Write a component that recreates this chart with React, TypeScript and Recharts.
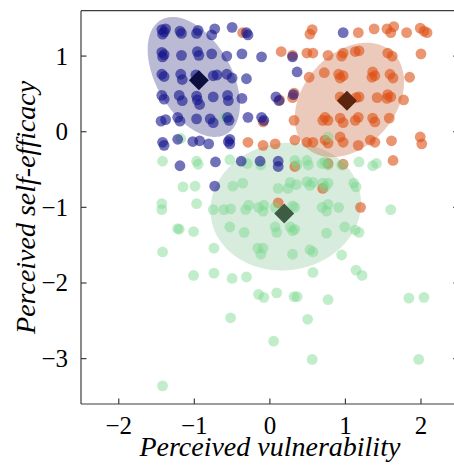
import React from 'react';
import { ComposedChart, Scatter, Area, XAxis, YAxis } from 'recharts';

// cluster 1 (blue): [perceived vulnerability, perceived self-efficacy]
const bluePoints: [number, number][] = [
  [-1.43, 1.35], [-1.40, 1.32], [-1.42, 1.29], [-1.38, 1.36], [-1.19, 1.33], [-1.17, 1.30], [-0.97, 1.30], [-0.95, 1.34],
  [-0.77, 1.28], [-0.73, 1.36], [-0.50, 1.38], [-0.31, 1.31], [-0.29, 1.28], [0.97, 1.31],
  [-1.43, 1.05], [-1.40, 1.02], [-1.42, 0.99], [-1.17, 1.01], [-0.96, 1.06], [-0.94, 1.01], [-0.77, 1.03], [-0.57, 1.00],
  [-0.37, 1.03], [-0.11, 0.99], [0.30, 0.99],
  [-1.43, 0.76], [-1.40, 0.73], [-1.18, 0.76], [-1.16, 0.69], [-0.98, 0.75], [-0.96, 0.70], [-0.75, 0.74], [-0.70, 0.75],
  [-0.57, 0.76], [-0.50, 0.71], [-0.31, 0.70], [0.36, 0.79],
  [-1.43, 0.48], [-1.40, 0.43], [-1.20, 0.48], [-1.16, 0.41], [-0.97, 0.47], [-0.96, 0.42], [-0.93, 0.36], [-0.75, 0.46],
  [-0.56, 0.48], [-0.55, 0.41], [-0.37, 0.44], [0.08, 0.46], [0.12, 0.41], [0.31, 0.49],
  [-1.44, 0.14], [-1.38, 0.16], [-1.22, 0.19], [-1.19, 0.14], [-0.97, 0.17], [-0.79, 0.17], [-0.75, 0.12], [-0.56, 0.19],
  [-0.54, 0.15], [-0.29, 0.19], [-0.11, 0.19], [-0.08, 0.15],
  [-1.42, -0.14], [-1.40, -0.18], [-1.22, -0.10], [-1.02, -0.13], [-0.93, -0.12], [-0.81, -0.16], [-0.53, -0.10],
  [-0.53, -0.16], [-0.55, -0.13],
  [-1.19, -0.45], [-0.72, -0.40], [-0.38, -0.39], [-0.13, -0.39], [0.11, -0.39], [0.11, -0.46], [-0.73, -0.72],
];

// cluster 2 (orange)
const orangePoints: [number, number][] = [
  [-0.36, 1.31], [0.53, 1.29], [0.56, 1.35], [1.17, 1.31], [1.38, 1.36], [1.55, 1.36], [1.60, 1.31], [1.64, 1.39],
  [1.81, 1.31], [1.99, 1.37], [2.04, 1.33], [2.08, 1.31],
  [0.15, 1.06], [0.30, 1.01], [0.49, 1.04], [0.57, 1.04], [0.77, 1.01], [0.97, 1.04], [0.95, 1.00], [1.13, 1.06],
  [1.18, 1.07], [1.56, 1.04], [1.62, 1.00], [2.00, 1.03],
  [0.52, 0.72], [0.72, 0.78], [0.91, 0.76], [0.97, 0.74], [0.93, 0.71], [1.36, 0.79], [1.35, 0.72], [1.39, 0.74],
  [1.59, 0.76], [1.63, 0.71], [1.85, 0.72],
  [0.13, 0.42], [0.32, 0.51], [0.30, 0.45], [0.93, 0.46], [0.97, 0.42], [1.18, 0.46], [1.14, 0.45], [1.42, 0.45],
  [1.56, 0.49], [1.60, 0.46], [1.55, 0.44], [1.77, 0.42],
  [-0.09, 0.13], [0.32, 0.15], [0.70, 0.15], [0.73, 0.19], [0.77, 0.15], [0.93, 0.18], [0.97, 0.12], [1.13, 0.15],
  [1.17, 0.19], [1.36, 0.18], [1.39, 0.13], [1.58, 0.18],
  [-0.29, -0.14], [-0.09, -0.18], [0.07, -0.16], [0.33, -0.11], [0.49, -0.14], [0.57, -0.14], [0.73, -0.11],
  [0.77, -0.15], [0.93, -0.07], [0.97, -0.14], [1.17, -0.18], [1.33, -0.11], [1.39, -0.14], [1.61, -0.12],
  [1.99, -0.07], [2.01, -0.16],
  [0.33, -0.46], [0.77, -0.42], [0.97, -0.43], [1.63, -0.38], [0.70, -0.75], [0.11, -0.94], [1.20, -1.00],
];

// cluster 3 (green)
const greenPoints: [number, number][] = [
  [-1.18, -0.09], [-0.60, 0.19], [0.77, -0.07],
  [-1.42, -0.39], [-0.97, -0.39], [-0.95, -0.43], [-0.53, -0.37], [-0.30, -0.42], [-0.12, -0.44], [0.33, -0.38],
  [0.36, -0.44], [0.49, -0.38], [0.51, -0.44], [0.69, -0.42], [0.73, -0.40], [0.77, -0.44], [0.95, -0.44],
  [1.18, -0.40], [1.36, -0.45], [1.41, -0.42],
  [-1.15, -0.73], [-0.99, -0.72], [-0.49, -0.72], [-0.36, -0.68], [0.11, -0.75], [0.27, -0.67], [0.24, -0.75],
  [0.35, -0.70], [0.49, -0.66], [0.53, -0.71], [0.57, -0.67], [0.70, -0.68], [0.73, -0.73], [0.77, -0.68],
  [1.11, -0.68], [1.14, -0.73],
  [-1.43, -0.95], [-1.43, -1.03], [-0.97, -0.95], [-0.75, -1.03], [-0.61, -1.03], [-0.52, -1.02], [-0.32, -1.03],
  [-0.28, -0.97], [-0.15, -1.00], [-0.09, -1.05], [-0.08, -0.97], [0.07, -1.00], [0.30, -0.98], [0.33, -1.00],
  [0.69, -1.00], [0.75, -1.05], [0.77, -0.96], [0.91, -1.00], [1.60, -1.03],
  [-1.22, -1.28], [-1.20, -1.29], [-1.01, -1.32], [-0.53, -1.26], [-0.34, -1.33], [0.07, -1.26], [0.09, -1.33],
  [0.27, -1.26], [0.30, -1.31], [0.33, -1.29], [0.75, -1.34], [0.99, -1.26], [1.13, -1.30], [1.18, -1.33],
  [-1.42, -1.59], [-0.74, -1.54], [-0.16, -1.54], [-0.09, -1.54], [-0.12, -1.62], [0.30, -1.62], [0.53, -1.56],
  [0.57, -1.59], [0.95, -1.63],
  [-1.01, -1.90], [-0.74, -1.87], [-0.50, -1.94], [-0.31, -1.92], [0.57, -1.86], [1.14, -1.83], [1.22, -1.90],
  [-0.15, -2.15], [-0.08, -2.19], [0.09, -2.13], [0.32, -2.18], [0.36, -2.18], [0.77, -2.22], [1.84, -2.20], [2.04, -2.19],
  [-0.52, -2.46], [0.50, -2.48], [0.05, -2.77], [0.56, -3.01], [1.97, -3.01], [-1.42, -3.36],
];

// cluster centroids
const blueMean: [number, number][] = [[-0.94, 0.68]];
const orangeMean: [number, number][] = [[1.02, 0.41]];
const greenMean: [number, number][] = [[0.19, -1.08]];

// covariance ellipses: [centre x, centre y, semi-major, semi-minor, angle (deg)]
const blueEllipse = [-1.007, 0.724, 0.87, 0.495, 120];
const orangeEllipse = [1.053, 0.42, 0.85, 0.61, 49];
const greenEllipse = [0.21, -0.99, 1.0, 0.84, 9];

const xTicks = [-2, -1, 0, 1, 2];
const yTicks = [-3, -2, -1, 0, 1];

const toRows = (pts: [number, number][]) => pts.map(([x, y]) => ({ x, y }));

// lower/upper boundary of an ellipse as a range band over x
function ellipseBand(e: number[]) {
  const [cx, cy, a, b, deg] = e;
  const p = (deg * Math.PI) / 180;
  const c = Math.cos(p);
  const s = Math.sin(p);
  const hx = Math.sqrt(a * a * c * c + b * b * s * s);
  const A = (s * s) / (a * a) + (c * c) / (b * b);
  const B0 = 2 * s * c * (1 / (a * a) - 1 / (b * b));
  const C0 = (c * c) / (a * a) + (s * s) / (b * b);
  const out: { x: number; band: [number, number] }[] = [];
  const N = 120;
  for (let i = 0; i <= N; i++) {
    const t = Math.PI * (1 - i / N);
    const u = hx * Math.cos(t);
    const B = B0 * u;
    const C = C0 * u * u - 1;
    const r = Math.sqrt(Math.max(0, B * B - 4 * A * C));
    out.push({ x: cx + u, band: [cy + (-B - r) / (2 * A), cy + (-B + r) / (2 * A)] });
  }
  return out;
}

const SERIF = "'Liberation Serif', 'Times New Roman', Times, serif";
const AX = '#3d3d3d';
const TL = 5.5;
const fmt = (v: number) => (v < 0 ? '\u2212' + Math.abs(v) : String(v));

const BottomTick = (p: any) => (
  <g>
    <line x1={p.x} y1={p.y} x2={p.x} y2={p.y - TL} stroke={AX} strokeWidth={1.2} />
    <text x={p.x} y={p.y + 30} textAnchor="middle" fontFamily={SERIF} fontSize={25} fill="#000">
      {fmt(p.payload.value)}
    </text>
  </g>
);
const LeftTick = (p: any) => (
  <g>
    <line x1={p.x} y1={p.y} x2={p.x + TL} y2={p.y} stroke={AX} strokeWidth={1.2} />
    <text x={p.x - 13} y={p.y} dy="0.34em" textAnchor="end" fontFamily={SERIF} fontSize={25} fill="#000">
      {fmt(p.payload.value)}
    </text>
  </g>
);
const TopTick = (p: any) => <line x1={p.x} y1={p.y} x2={p.x} y2={p.y + TL} stroke={AX} strokeWidth={1.2} />;
const RightTick = (p: any) => <line x1={p.x} y1={p.y} x2={p.x - TL} y2={p.y} stroke={AX} strokeWidth={1.2} />;

const dot = (color: string, op: number) => (p: any) =>
  <circle cx={p.cx} cy={p.cy} r={5.4} fill={color} fillOpacity={op} stroke="none" />;
const diamond = (color: string) => (p: any) => {
  const h = 10;
  return (
    <polygon
      points={`${p.cx},${p.cy - h} ${p.cx + h},${p.cy} ${p.cx},${p.cy + h} ${p.cx - h},${p.cy}`}
      fill={color}
    />
  );
};

const xLabel = (p: any) => {
  const vb = p.viewBox;
  return (
    <text x={vb.x + vb.width / 2} y={vb.y + 52} textAnchor="middle" fontFamily={SERIF} fontStyle="italic" fontSize={28} fill="#000">
      Perceived vulnerability
    </text>
  );
};
const yLabel = (p: any) => {
  const vb = p.viewBox;
  const x = vb.x + 35;
  const y = vb.y + vb.height / 2;
  return (
    <text x={x} y={y} transform={`rotate(-90 ${x} ${y})`} textAnchor="middle" fontFamily={SERIF} fontStyle="italic" fontSize={28} fill="#000">
      Perceived self-efficacy
    </text>
  );
};

export default function App() {
  const axisLine = { stroke: AX, strokeWidth: 1.2 };
  return (
    <div style={{ position: 'absolute', left: 0, top: 0, width: 454, height: 468, overflow: 'hidden', background: '#fff' }}>
      <ComposedChart width={470} height={468} margin={{ top: 5.7, right: 6.25, bottom: 24, left: 0 }}>
        <XAxis
          type="number" dataKey="x" domain={[-2.5, 2.5]} ticks={xTicks} interval={0} allowDataOverflow
          height={40} tickSize={0} tickMargin={0} tickLine={false} axisLine={axisLine} tick={BottomTick} label={xLabel}
        />
        <XAxis
          xAxisId="top" orientation="top" type="number" domain={[-2.5, 2.5]} ticks={xTicks} interval={0} allowDataOverflow
          height={5} tickSize={0} tickMargin={0} tickLine={false} axisLine={axisLine} tick={TopTick}
        />
        <YAxis
          type="number" dataKey="y" domain={[-3.6, 1.6]} ticks={yTicks} interval={0} allowDataOverflow
          width={81} tickSize={0} tickMargin={0} tickLine={false} axisLine={axisLine} tick={LeftTick} label={yLabel}
        />
        <YAxis
          yAxisId="right" orientation="right" type="number" domain={[-3.6, 1.6]} ticks={yTicks} interval={0} allowDataOverflow
          width={5} tickSize={0} tickMargin={0} tickLine={false} axisLine={axisLine} tick={RightTick}
        />
        <Area data={ellipseBand(greenEllipse)} dataKey="band" type="linear" stroke="none" fill="#64b478" fillOpacity={0.25} dot={false} activeDot={false} isAnimationActive={false} />
        <Area data={ellipseBand(orangeEllipse)} dataKey="band" type="linear" stroke="none" fill="#c0501e" fillOpacity={0.3} dot={false} activeDot={false} isAnimationActive={false} />
        <Area data={ellipseBand(blueEllipse)} dataKey="band" type="linear" stroke="none" fill="#191970" fillOpacity={0.3} dot={false} activeDot={false} isAnimationActive={false} />
        <Scatter data={toRows(orangePoints)} shape={dot('#dd5014', 0.6)} isAnimationActive={false} />
        <Scatter data={toRows(greenPoints)} shape={dot('#78d68c', 0.45)} isAnimationActive={false} />
        <Scatter data={toRows(bluePoints)} shape={dot('#14148c', 0.6)} isAnimationActive={false} />
        <Scatter data={toRows(blueMean)} shape={diamond('#0f0f3f')} isAnimationActive={false} />
        <Scatter data={toRows(orangeMean)} shape={diamond('#5c2510')} isAnimationActive={false} />
        <Scatter data={toRows(greenMean)} shape={diamond('#3e5c44')} isAnimationActive={false} />
      </ComposedChart>
    </div>
  );
}
